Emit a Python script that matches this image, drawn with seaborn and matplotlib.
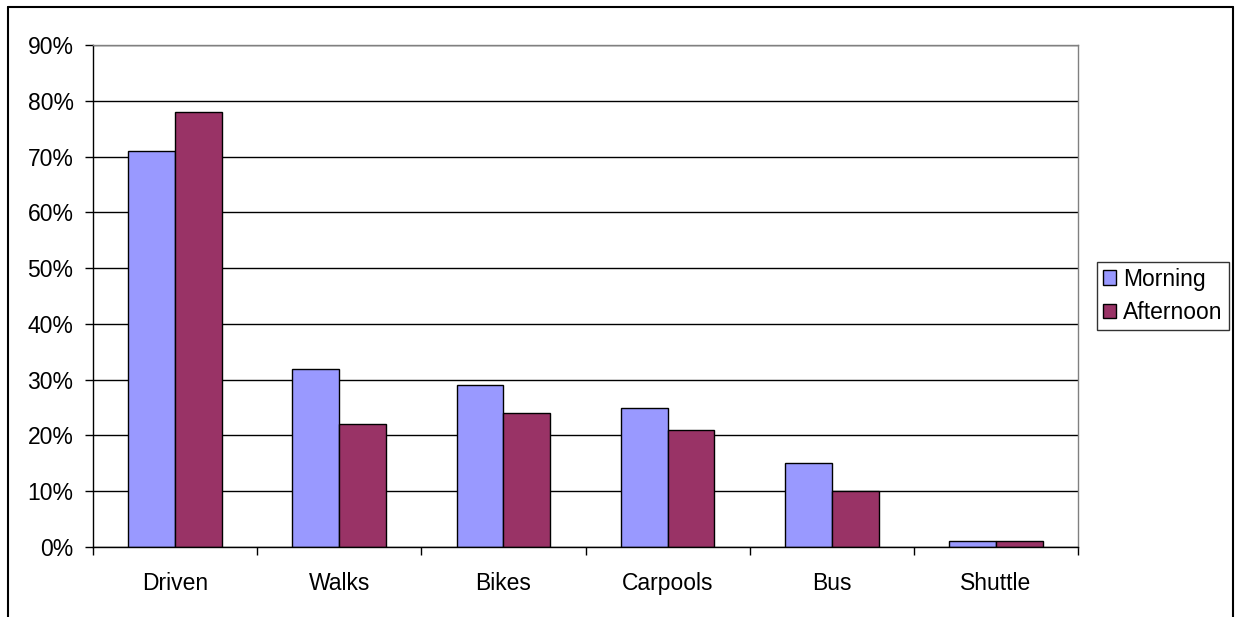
import pandas as pd
import seaborn as sns
import matplotlib.pyplot as plt
from matplotlib.lines import Line2D
from matplotlib.ticker import PercentFormatter, FixedLocator

# Chart data
modes = ['Driven', 'Walks', 'Bikes', 'Carpools', 'Bus', 'Shuttle']
morning = [71, 32, 29, 25, 15, 1]
afternoon = [78, 22, 24, 21, 10, 1]

df = pd.DataFrame({
    'Mode': modes * 2,
    'Share': [v / 100 for v in morning + afternoon],
    'Time': ['Morning'] * len(modes) + ['Afternoon'] * len(modes),
})

sns.set_style('white')
plt.rcParams['font.family'] = ['Liberation Sans', 'DejaVu Sans']
plt.rcParams['text.color'] = 'black'
plt.rcParams['xtick.color'] = 'black'
plt.rcParams['ytick.color'] = 'black'
plt.rcParams['axes.labelcolor'] = 'black'

fig = plt.figure(figsize=(12.36, 6.17), dpi=100)
ax = fig.add_axes([93 / 1236, 1 - 547 / 617, (1078 - 93) / 1236, (547 - 45) / 617])

sns.barplot(data=df, x='Mode', y='Share', hue='Time',
            palette={'Morning': '#9999FF', 'Afternoon': '#993366'},
            width=0.571, edgecolor='black', linewidth=1, saturation=1,
            ax=ax, legend=True)

ax.set_xlim(-0.5, len(modes) - 0.5)
ax.set_ylim(0, 0.9)
ax.set_xlabel('')
ax.set_ylabel('')

# Y axis: percent ticks with black gridlines
ax.yaxis.set_major_locator(FixedLocator([i / 10 for i in range(10)]))
ax.yaxis.set_major_formatter(PercentFormatter(1.0, decimals=0))
ax.grid(axis='y', color='black', linewidth=1)
ax.set_axisbelow(True)
ax.tick_params(axis='y', left=True, length=6, width=1, color='black',
               labelcolor='black', labelsize=16.5, pad=8)

# X axis: labels centred, tick marks between categories
ax.xaxis.set_minor_locator(FixedLocator([i - 0.5 for i in range(len(modes) + 1)]))
ax.tick_params(axis='x', which='major', length=0, labelsize=16.5, pad=18,
               labelcolor='black')
ax.tick_params(axis='x', which='minor', bottom=True, length=6, width=1, color='black')

for side in ['left', 'bottom']:
    ax.spines[side].set_color('black')
    ax.spines[side].set_linewidth(1)
for side in ['top', 'right']:
    ax.spines[side].set_visible(True)
    ax.spines[side].set_color('#808080')
    ax.spines[side].set_linewidth(1)

# Legend on the right
ax.legend(title=None, loc='center left',
          bbox_to_anchor=(1097 / 1236, 1 - 296 / 617),
          bbox_transform=fig.transFigure,
          fontsize=16.5, frameon=True, fancybox=False, edgecolor='black',
          handlelength=0.6, handleheight=0.6, handletextpad=0.3,
          borderpad=0.25, labelspacing=0.45, borderaxespad=0)
leg = ax.get_legend()
leg.get_frame().set_linewidth(1)
for t in leg.get_texts():
    t.set_color('black')

# Outer chart frame
frame_kw = dict(color='black', linewidth=1.5, transform=fig.transFigure)
fig.add_artist(Line2D([8 / 1236, 8 / 1236], [1 - 7 / 617, -0.05], **frame_kw))
fig.add_artist(Line2D([8 / 1236, 1233 / 1236], [1 - 7 / 617, 1 - 7 / 617], **frame_kw))
fig.add_artist(Line2D([1233 / 1236, 1233 / 1236], [1 - 7 / 617, -0.05], **frame_kw))

fig.savefig('out.png', dpi=100)
